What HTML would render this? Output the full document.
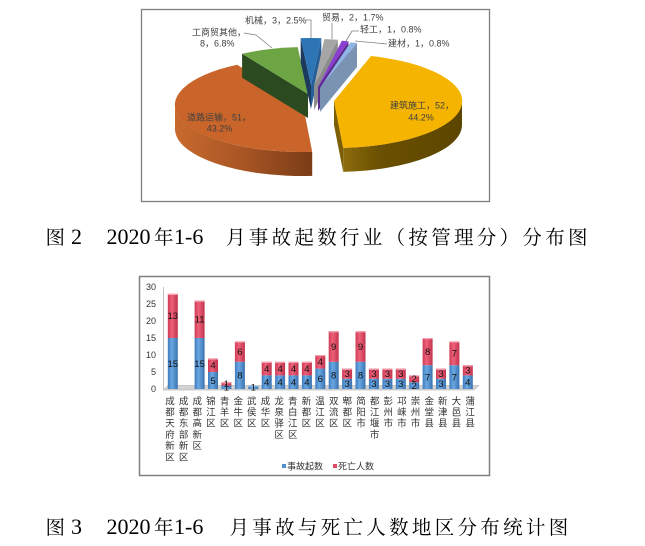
<!DOCTYPE html>
<html><head><meta charset="utf-8"><style>
html,body{margin:0;padding:0;background:#fff;}
svg{display:block;}
.pl{font-family:"Liberation Sans","Noto Sans CJK SC",sans-serif;font-size:9px;fill:#404040;}
.ax{font-family:"Liberation Sans",sans-serif;font-size:9px;fill:#333;}
.dl{font-family:"Liberation Sans",sans-serif;font-size:9.5px;fill:#111;text-anchor:middle;}
.xl{font-family:"Liberation Sans","Noto Sans CJK SC",sans-serif;font-size:9.5px;fill:#333;text-anchor:middle;}
.cj{font-family:"Liberation Serif","Noto Serif CJK SC",serif;font-size:19.5px;fill:#000;}
.la{font-family:"Liberation Serif",serif;font-size:22px;fill:#000;}
</style></head><body>
<svg width="645" height="546" viewBox="0 0 645 546" xmlns="http://www.w3.org/2000/svg">
<defs>
<linearGradient id="os" gradientUnits="userSpaceOnUse" x1="175" y1="0" x2="312" y2="0">
<stop offset="0" stop-color="#C86A2E"/><stop offset="0.5" stop-color="#A85524"/><stop offset="1" stop-color="#7A3C16"/></linearGradient>
<linearGradient id="ys" gradientUnits="userSpaceOnUse" x1="343" y1="0" x2="462" y2="0">
<stop offset="0" stop-color="#8C6C0C"/><stop offset="0.3" stop-color="#6A5000"/><stop offset="1" stop-color="#5C4500"/></linearGradient>
<linearGradient id="bb" x1="0" y1="0" x2="1" y2="0">
<stop offset="0" stop-color="#3F7BBE"/><stop offset="0.4" stop-color="#6AA8E2"/><stop offset="1" stop-color="#3A72B0"/></linearGradient>
<linearGradient id="rb" x1="0" y1="0" x2="1" y2="0">
<stop offset="0" stop-color="#CE3A55"/><stop offset="0.4" stop-color="#EE6179"/><stop offset="1" stop-color="#C2334D"/></linearGradient>
</defs>
<rect width="645" height="546" fill="#fff"/>

<!-- PIE CHART -->
<rect x="141.5" y="9.5" width="348" height="192" fill="#fff" stroke="#7f7f7f" stroke-width="1.3"/>
<!-- orange -->
<path d="M312.2,151.9 A128,47 0 0 1 175,105 L175,129 A128,47 0 0 0 312.2,175.9 Z" fill="url(#os)"/>
<path d="M303,105 L312.2,151.9 A128,47 0 0 1 237.1,64.7 Z" fill="#C9652A"/>
<!-- green -->
<polygon points="308,94 242.1,53.7 242.1,77.7 308,118" fill="#2C4A1F"/>
<path d="M308,94 L242.1,53.7 A128,47 0 0 1 297.7,47.15 Z" fill="#6DA544"/>
<!-- blue -->
<polygon points="311,85 300.7,38.15 300.7,62.15 311,109" fill="#1C3A5E"/>
<polygon points="311,85 321.3,38.15 321.3,62.15 311,109" fill="#255F99"/>
<path d="M311,85 L300.7,38.15 A128,47 0 0 1 321.3,38.15 Z" fill="#2E75B6"/>
<!-- gray -->
<polygon points="314,86 337.8,39.8 337.8,63.8 314,110" fill="#8C8C8C"/>
<path d="M314,86 L324.3,39.15 A128,47 0 0 1 337.8,39.8 Z" fill="#A6A6A6"/>
<!-- purple -->
<polygon points="318,87 348.5,41.4 348.5,65.4 318,111" fill="#5C2B8E"/>
<path d="M318,87 L341.8,40.8 A128,47 0 0 1 348.5,41.4 Z" fill="#8A3FD1"/>
<!-- light blue -->
<polygon points="320,88 357,43 357,67 320,112" fill="#7A93B3"/>
<path d="M320,88 L350.5,42.4 A128,47 0 0 1 357,43 Z" fill="#8FB4E3"/>
<!-- yellow -->
<path d="M462,101 A128,47 0 0 1 343.2,147.9 L343.2,171.9 A128,47 0 0 0 462,125 Z" fill="url(#ys)"/>
<polygon points="334,101 343.2,147.9 343.2,171.9 334,125" fill="#7C5E05"/>
<path d="M334,101 L371,56 A128,47 0 0 1 343.2,147.9 Z" fill="#F4B400"/>

<!-- leader lines -->
<g fill="none" stroke="#808080" stroke-width="0.8">
<polyline points="244,33 256,35 272,48"/>
<polyline points="306,20 311,20 311,38"/>
<polyline points="332,23 332,39"/>
<polyline points="346,41 352,31 359,31"/>
<polyline points="355,41 387,44"/>
</g>
<!-- pie labels -->
<text class="pl" x="390" y="108.5">建筑施工，52，</text>
<text class="pl" x="421" y="120.5" text-anchor="middle">44.2%</text>
<text class="pl" x="187" y="120.5">道路运输，51，</text>
<text class="pl" x="219.5" y="131.5" text-anchor="middle">43.2%</text>
<text class="pl" x="192" y="35.5">工商贸其他，</text>
<text class="pl" x="200" y="46.5">8，6.8%</text>
<text class="pl" x="245" y="23.5">机械，3，2.5%</text>
<text class="pl" x="322" y="20.5">贸易，2，1.7%</text>
<text class="pl" x="360" y="32.5">轻工，1，0.8%</text>
<text class="pl" x="388" y="46.5">建材，1，0.8%</text>

<!-- CAPTION 2 -->
<text class="cj" x="45.5" y="244">图</text>
<text class="la" x="71" y="244">2</text>
<text class="la" x="106.5" y="244">2020</text>
<text class="cj" x="154" y="244">年</text>
<text class="la" x="174" y="244">1-6</text>
<text class="cj" x="226 248.8 271.6 294.4 317.2 340 362.8 385.6 408.4 431.2 454 476.8 499.6 522.4 545.2 568" y="244">月事故起数行业（按管理分）分布图</text>

<!-- BAR CHART -->
<rect x="139.5" y="276.5" width="350" height="199" fill="#fff" stroke="#808080" stroke-width="1.5"/>
<line x1="163.5" y1="287" x2="163.5" y2="390" stroke="#bfbfbf" stroke-width="1"/>
<polygon points="163,390 168,385.5 479,385.5 474,390" fill="#d3d3d3" stroke="#a6a6a6" stroke-width="0.5"/>
<g class="ax" text-anchor="end">
<text x="156" y="290">30</text><text x="156" y="307">25</text><text x="156" y="324">20</text>
<text x="156" y="341">15</text><text x="156" y="358">10</text><text x="156" y="375">5</text><text x="156" y="392">0</text>
</g>
<!-- bars: blue -->
<g fill="url(#bb)">
<rect x="167.8" y="338" width="10" height="51"/>
<rect x="194.6" y="338" width="10" height="51"/>
<rect x="208.0" y="372" width="10" height="17"/>
<rect x="221.4" y="385.6" width="10" height="3.4"/>
<rect x="234.9" y="361.8" width="10" height="27.2"/>
<rect x="248.3" y="385.6" width="10" height="3.4"/>
<rect x="261.7" y="375.4" width="10" height="13.6"/>
<rect x="275.1" y="375.4" width="10" height="13.6"/>
<rect x="288.5" y="375.4" width="10" height="13.6"/>
<rect x="301.9" y="375.4" width="10" height="13.6"/>
<rect x="315.3" y="368.6" width="10" height="20.4"/>
<rect x="328.7" y="361.8" width="10" height="27.2"/>
<rect x="342.1" y="378.8" width="10" height="10.2"/>
<rect x="355.5" y="361.8" width="10" height="27.2"/>
<rect x="368.9" y="378.8" width="10" height="10.2"/>
<rect x="382.4" y="378.8" width="10" height="10.2"/>
<rect x="395.8" y="378.8" width="10" height="10.2"/>
<rect x="409.2" y="382.2" width="10" height="6.8"/>
<rect x="422.6" y="365.2" width="10" height="23.8"/>
<rect x="436.0" y="378.8" width="10" height="10.2"/>
<rect x="449.4" y="365.2" width="10" height="23.8"/>
<rect x="462.8" y="375.4" width="10" height="13.6"/>
</g>
<!-- bars: red -->
<g fill="url(#rb)">
<rect x="167.8" y="293.8" width="10" height="44.2"/>
<rect x="194.6" y="300.6" width="10" height="37.4"/>
<rect x="208.0" y="358.4" width="10" height="13.6"/>
<rect x="221.4" y="382.2" width="10" height="3.4"/>
<rect x="234.9" y="341.4" width="10" height="20.4"/>
<rect x="261.7" y="361.8" width="10" height="13.6"/>
<rect x="275.1" y="361.8" width="10" height="13.6"/>
<rect x="288.5" y="361.8" width="10" height="13.6"/>
<rect x="301.9" y="361.8" width="10" height="13.6"/>
<rect x="315.3" y="355" width="10" height="13.6"/>
<rect x="328.7" y="331.2" width="10" height="30.6"/>
<rect x="342.1" y="368.6" width="10" height="10.2"/>
<rect x="355.5" y="331.2" width="10" height="30.6"/>
<rect x="368.9" y="368.6" width="10" height="10.2"/>
<rect x="382.4" y="368.6" width="10" height="10.2"/>
<rect x="395.8" y="368.6" width="10" height="10.2"/>
<rect x="409.2" y="375.4" width="10" height="6.8"/>
<rect x="422.6" y="338" width="10" height="27.2"/>
<rect x="436.0" y="368.6" width="10" height="10.2"/>
<rect x="449.4" y="341.4" width="10" height="23.8"/>
<rect x="462.8" y="365.2" width="10" height="10.2"/>
</g>
<!-- top caps -->
<g fill="#F3A0AE">
<rect x="167.8" y="293.8" width="10" height="1.2"/><rect x="194.6" y="300.6" width="10" height="1.2"/>
<rect x="208.0" y="358.4" width="10" height="1.2"/><rect x="221.4" y="382.2" width="10" height="1.2"/>
<rect x="234.9" y="341.4" width="10" height="1.2"/><rect x="261.7" y="361.8" width="10" height="1.2"/>
<rect x="275.1" y="361.8" width="10" height="1.2"/><rect x="288.5" y="361.8" width="10" height="1.2"/>
<rect x="301.9" y="361.8" width="10" height="1.2"/><rect x="315.3" y="355" width="10" height="1.2"/>
<rect x="328.7" y="331.2" width="10" height="1.2"/><rect x="342.1" y="368.6" width="10" height="1.2"/>
<rect x="355.5" y="331.2" width="10" height="1.2"/><rect x="368.9" y="368.6" width="10" height="1.2"/>
<rect x="382.4" y="368.6" width="10" height="1.2"/><rect x="395.8" y="368.6" width="10" height="1.2"/>
<rect x="409.2" y="375.4" width="10" height="1.2"/><rect x="422.6" y="338" width="10" height="1.2"/>
<rect x="436.0" y="368.6" width="10" height="1.2"/><rect x="449.4" y="341.4" width="10" height="1.2"/>
<rect x="462.8" y="365.2" width="10" height="1.2"/>
</g>
<rect x="248.3" y="385.6" width="10" height="1" fill="#A9CBEE"/>
<!-- data labels -->
<g class="dl">
<text x="172.8" y="366.8">15</text><text x="172.8" y="319.2">13</text>
<text x="199.6" y="366.8">15</text><text x="199.6" y="322.6">11</text>
<text x="213.0" y="383.8">5</text><text x="213.0" y="368.5">4</text>
<text x="226.4" y="390.6">1</text><text x="226.4" y="387.2">1</text>
<text x="239.9" y="378.7">8</text><text x="239.9" y="354.9">6</text>
<text x="253.3" y="390.6">1</text>
<text x="266.7" y="385.5">4</text><text x="266.7" y="371.9">4</text>
<text x="280.1" y="385.5">4</text><text x="280.1" y="371.9">4</text>
<text x="293.5" y="385.5">4</text><text x="293.5" y="371.9">4</text>
<text x="306.9" y="385.5">4</text><text x="306.9" y="371.9">4</text>
<text x="320.3" y="382.1">6</text><text x="320.3" y="365.1">4</text>
<text x="333.7" y="378.7">8</text><text x="333.7" y="349.8">9</text>
<text x="347.1" y="387.2">3</text><text x="347.1" y="377">3</text>
<text x="360.5" y="378.7">8</text><text x="360.5" y="349.8">9</text>
<text x="373.9" y="387.2">3</text><text x="373.9" y="377">3</text>
<text x="387.4" y="387.2">3</text><text x="387.4" y="377">3</text>
<text x="400.8" y="387.2">3</text><text x="400.8" y="377">3</text>
<text x="414.2" y="388.9">2</text><text x="414.2" y="382.1">2</text>
<text x="427.6" y="380.4">7</text><text x="427.6" y="354.9">8</text>
<text x="441.0" y="387.2">3</text><text x="441.0" y="377">3</text>
<text x="454.4" y="380.4">7</text><text x="454.4" y="356.6">7</text>
<text x="467.8" y="385.5">4</text><text x="467.8" y="373.6">3</text>
</g>
<!-- x labels (vertical) -->
<g class="xl">
<text x="170" y="404.3">成<tspan x="170" dy="11.2">都</tspan><tspan x="170" dy="11.2">天</tspan><tspan x="170" dy="11.2">府</tspan><tspan x="170" dy="11.2">新</tspan><tspan x="170" dy="11.2">区</tspan></text>
<text x="183.6" y="404.3">成<tspan x="183.6" dy="11.2">都</tspan><tspan x="183.6" dy="11.2">东</tspan><tspan x="183.6" dy="11.2">部</tspan><tspan x="183.6" dy="11.2">新</tspan><tspan x="183.6" dy="11.2">区</tspan></text>
<text x="197.3" y="404.3">成<tspan x="197.3" dy="11.2">都</tspan><tspan x="197.3" dy="11.2">高</tspan><tspan x="197.3" dy="11.2">新</tspan><tspan x="197.3" dy="11.2">区</tspan></text>
<text x="210.9" y="404.3">锦<tspan x="210.9" dy="11.2">江</tspan><tspan x="210.9" dy="11.2">区</tspan></text>
<text x="224.6" y="404.3">青<tspan x="224.6" dy="11.2">羊</tspan><tspan x="224.6" dy="11.2">区</tspan></text>
<text x="238.2" y="404.3">金<tspan x="238.2" dy="11.2">牛</tspan><tspan x="238.2" dy="11.2">区</tspan></text>
<text x="251.8" y="404.3">武<tspan x="251.8" dy="11.2">侯</tspan><tspan x="251.8" dy="11.2">区</tspan></text>
<text x="265.5" y="404.3">成<tspan x="265.5" dy="11.2">华</tspan><tspan x="265.5" dy="11.2">区</tspan></text>
<text x="279.1" y="404.3">龙<tspan x="279.1" dy="11.2">泉</tspan><tspan x="279.1" dy="11.2">驿</tspan><tspan x="279.1" dy="11.2">区</tspan></text>
<text x="292.8" y="404.3">青<tspan x="292.8" dy="11.2">白</tspan><tspan x="292.8" dy="11.2">江</tspan><tspan x="292.8" dy="11.2">区</tspan></text>
<text x="306.4" y="404.3">新<tspan x="306.4" dy="11.2">都</tspan><tspan x="306.4" dy="11.2">区</tspan></text>
<text x="320.0" y="404.3">温<tspan x="320.0" dy="11.2">江</tspan><tspan x="320.0" dy="11.2">区</tspan></text>
<text x="333.7" y="404.3">双<tspan x="333.7" dy="11.2">流</tspan><tspan x="333.7" dy="11.2">区</tspan></text>
<text x="347.3" y="404.3">郫<tspan x="347.3" dy="11.2">都</tspan><tspan x="347.3" dy="11.2">区</tspan></text>
<text x="361.0" y="404.3">简<tspan x="361.0" dy="11.2">阳</tspan><tspan x="361.0" dy="11.2">市</tspan></text>
<text x="374.6" y="404.3">都<tspan x="374.6" dy="11.2">江</tspan><tspan x="374.6" dy="11.2">堰</tspan><tspan x="374.6" dy="11.2">市</tspan></text>
<text x="388.2" y="404.3">彭<tspan x="388.2" dy="11.2">州</tspan><tspan x="388.2" dy="11.2">市</tspan></text>
<text x="401.9" y="404.3">邛<tspan x="401.9" dy="11.2">崃</tspan><tspan x="401.9" dy="11.2">市</tspan></text>
<text x="415.5" y="404.3">崇<tspan x="415.5" dy="11.2">州</tspan><tspan x="415.5" dy="11.2">市</tspan></text>
<text x="429.2" y="404.3">金<tspan x="429.2" dy="11.2">堂</tspan><tspan x="429.2" dy="11.2">县</tspan></text>
<text x="442.8" y="404.3">新<tspan x="442.8" dy="11.2">津</tspan><tspan x="442.8" dy="11.2">县</tspan></text>
<text x="456.4" y="404.3">大<tspan x="456.4" dy="11.2">邑</tspan><tspan x="456.4" dy="11.2">县</tspan></text>
<text x="470.1" y="404.3">蒲<tspan x="470.1" dy="11.2">江</tspan><tspan x="470.1" dy="11.2">县</tspan></text>
</g>
<!-- legend -->
<rect x="282" y="464" width="4" height="4" fill="#4F8FD0"/>
<text class="pl" x="287" y="469.5" style="fill:#333">事故起数</text>
<rect x="333" y="464" width="4" height="4" fill="#E04A64"/>
<text class="pl" x="338" y="469.5" style="fill:#333">死亡人数</text>

<!-- CAPTION 3 -->
<text class="cj" x="45.5" y="534">图</text>
<text class="la" x="71" y="534">3</text>
<text class="la" x="106.5" y="534">2020</text>
<text class="cj" x="154" y="534">年</text>
<text class="la" x="174" y="534">1-6</text>
<text class="cj" x="229.5 252.3 275.1 297.9 320.7 343.5 366.3 389.1 411.9 434.7 457.5 480.3 503.1 525.9 548.7" y="534">月事故与死亡人数地区分布统计图</text>
</svg>
</body></html>
